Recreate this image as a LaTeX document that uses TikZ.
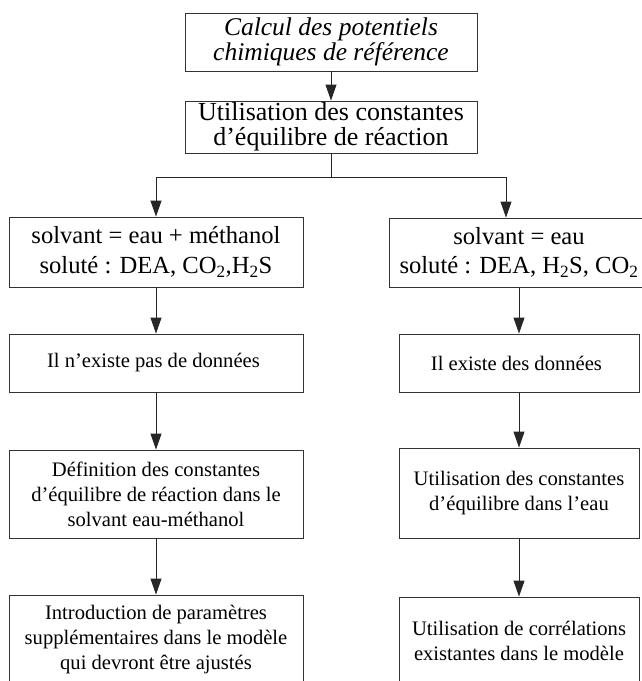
\documentclass[tikz,border=0pt]{standalone}
\usepackage{fontspec}
\setmainfont{Liberation Serif}
\usetikzlibrary{arrows.meta}

\begin{document}
\begin{tikzpicture}[
    x=1pt, y=-1pt,
    % Node styles
    stepbox/.style n args={2}{
        rectangle,
        draw=black!80,
        line width=0.9pt,
        inner sep=0pt,
        minimum width=#1,
        minimum height=#2,
        align=center
    },
    toptext/.style={
        font=\fontsize{25.5}{24.5}\selectfont\itshape
    },
    bigtext/.style={
        font=\fontsize{26}{25}\selectfont
    },
    midtext/.style={
        font=\fontsize{24.6}{29.5}\selectfont
    },
    smalltext/.style={
        font=\fontsize{20.6}{25}\selectfont
    },
    flow/.style={
        -{Triangle[length=16pt,width=11pt]},
        line width=0.9pt,
        color=black!85
    },
    link/.style={
        line width=0.9pt,
        color=black!85
    }
]

\useasboundingbox (0,0) rectangle (641,681);

% ===== Top boxes =====

\node[stepbox={292}{58}, toptext] (calc) at (331, 42) {
    Calcul des potentiels\\
    chimiques de référence
};

\node[stepbox={292}{52}, bigtext] (util) at (331, 127) {
    Utilisation des constantes\\
    d’équilibre de réaction
};

% ===== Left column: eau + méthanol =====

\node[stepbox={294}{70}, midtext] (solA) at (156, 252) {
    solvant = eau + méthanol\\
    soluté : DEA, CO\textsubscript{2},H\textsubscript{2}S
};

\node[stepbox={294}{58}, smalltext] (nonA) at (156, 363) {
    Il n’existe pas de données
};

\node[stepbox={294}{88}, smalltext] (defA) at (156, 494) {
    Définition des constantes\\
    d’équilibre de réaction dans le\\
    solvant eau-méthanol
};

\node[stepbox={294}{90}, smalltext] (introA) at (156, 640) {
    Introduction de paramètres\\
    supplémentaires dans le modèle\\
    qui devront être ajustés
};

% ===== Right column: eau =====

\node[stepbox={260}{69}, midtext] (solB) at (519, 252.5) {
    solvant = eau\\
    soluté : DEA, H\textsubscript{2}S, CO\textsubscript{2}
};

\node[stepbox={240}{58}, smalltext] (ouiB) at (519, 363) {
    Il existe des données
};

\node[stepbox={240}{90}, smalltext] (eauB) at (519, 493) {
    Utilisation des constantes\\
    d’équilibre dans l’eau
};

\node[stepbox={240}{88}, smalltext] (corrB) at (519, 641) {
    Utilisation de corrélations\\
    existantes dans le modèle
};

% ===== Arrows =====

\draw[flow] (calc) -- (util);

\coordinate (split) at (331, 177);
\draw[link] (util) -- (split);
\draw[flow] (split) -| (solA);
\draw[flow] (split) -| ([xshift=-13pt]solB.north);

\draw[flow] (solA) -- (nonA);
\draw[flow] (nonA) -- (defA);
\draw[flow] (defA) -- (introA);

\draw[flow] (solB) -- (ouiB);
\draw[flow] (ouiB) -- (eauB);
\draw[flow] (eauB) -- (corrB);

\end{tikzpicture}
\end{document}
